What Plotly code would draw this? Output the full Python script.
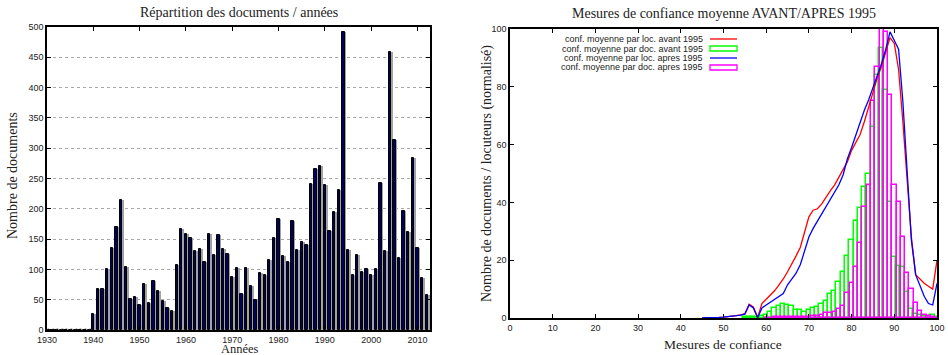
import plotly.graph_objects as go

# ---------------- Left chart data ----------------
years = list(range(1930, 2013))
docs = [0, 0, 0, 0, 0, 0, 0, 0, 0, 0,
        27, 68, 68, 101, 135, 170, 214, 104, 51, 55,
        42, 76, 44, 81, 64, 48, 37, 32, 108, 167,
        159, 152, 131, 133, 112, 158, 123, 157, 133, 126,
        87, 103, 60, 103, 73, 50, 94, 90, 115, 152,
        183, 122, 113, 180, 132, 145, 141, 241, 265, 270,
        240, 163, 194, 231, 491, 132, 90, 123, 95, 100,
        90, 100, 243, 131, 458, 313, 118, 196, 161, 284,
        135, 86, 57]
year_ticks = list(range(1930, 2011, 10))
doc_ticks = list(range(0, 501, 50))

# ---------------- Right chart data ----------------
conf_x = list(range(45, 101))
loc_avant = [0, 0, 0.1, 0.1, 0.2, 0.3, 0.4, 0.6, 0.8, 1.1,
             1.5, 4.8, 3.8, 0.2, 5.0, 6.5, 8, 9.5, 11.5, 13.5,
             16, 18.5, 21.5, 24.5, 29.5, 35, 37.3, 37.8, 39.5, 42,
             44, 46, 48.5, 51, 54, 58, 61, 63.5, 68, 73,
             78, 83, 87, 92, 97, 95, 86, 68, 48, 28,
             15, 13.5, 12, 11, 10, 20]
loc_apres = [0, 0, 0.1, 0.1, 0.2, 0.3, 0.4, 0.6, 0.8, 1.0,
             1.3, 4.5, 3.5, 0.1, 3.5, 4.5, 5.5, 6.3, 7.2, 8.5,
             11.5, 13.5, 15.5, 18.5, 23.5, 28, 31, 33.5, 36, 38.5,
             41, 43.5, 46, 49.5, 55, 59, 63.5, 67.5, 72, 75.5,
             79.5, 83.5, 88, 93, 99, 96, 93, 75, 50, 27,
             15, 11, 7.5, 5, 4.5, 12]
doc_avant_x = list(range(55, 101))
doc_avant = [0.2, 0.4, 0.5, 0.3, 0.8, 1.2, 2, 3.5, 4.2, 4.7,
             4.4, 4, 2.8, 2.6, 2.2, 2.6, 3.3, 3.8, 4.7, 5.8,
             8.2, 9.5, 12.5, 16, 21.5, 27, 33.5, 38, 45.5, 50,
             66, 84, 93.5, 79, 40, 21, 18, 17.5, 9, 3,
             1.4, 1, 0.6, 0.4, 1.2, 0.2]
doc_apres_x = list(range(60, 101))
doc_apres = [0.1, 0.1, 0.2, 0.2, 0.2, 0.3, 0.3, 0.3, 0.3, 0.4,
             0.5, 0.6, 0.8, 1.2, 1.6, 1.9, 2.2, 3, 4.3, 8.5,
             12, 17.8, 25.8, 38.5, 46, 75, 87, 104, 99, 77,
             46, 40, 28, 15.5, 10, 5.3, 2.5, 1.2, 0.6, 0.3, 0]
conf_ticks = list(range(0, 101, 10))
norm_ticks = list(range(0, 101, 20))

series_names = ["conf. moyenne par loc. avant 1995",
                "conf. moyenne par doc. avant 1995",
                "conf. moyenne par loc. apres 1995",
                "conf. moyenne par doc. apres 1995"]
series_colors = ["#ff0000", "#00ff00", "#0000ff", "#ff00ff"]

SERIF = "Liberation Serif"
SANS = "Liberation Sans"
W, H = 948, 355


def px(x):
    return x / W


def py(y):
    return (H - y) / H


fig = go.Figure()

# Left: shadow + navy bars (zero-count years show as a black baseline)
shadow_line_w = [1.2 if v == 0 else 0 for v in docs]
fig.add_trace(go.Bar(x=years, y=docs, xaxis="x", yaxis="y", width=0.42, offset=0.2,
                     marker=dict(color="#a3a3a3", line=dict(color="black", width=shadow_line_w)),
                     showlegend=False, hoverinfo="skip"))
fig.add_trace(go.Bar(x=years, y=docs, xaxis="x", yaxis="y", width=0.5, offset=-0.25,
                     marker=dict(color="#00005e", line=dict(color="black", width=1)),
                     showlegend=False, name="documents"))

# Right
fig.add_trace(go.Scatter(x=conf_x, y=loc_avant, xaxis="x2", yaxis="y2", mode="lines",
                         line=dict(color=series_colors[0], width=1.3), name=series_names[0]))
fig.add_trace(go.Bar(x=doc_avant_x, y=doc_avant, xaxis="x2", yaxis="y2", width=1, offset=-0.55,
                     marker=dict(color="rgba(0,0,0,0)", line=dict(color=series_colors[1], width=1.5)),
                     name=series_names[1]))
fig.add_trace(go.Scatter(x=conf_x, y=loc_apres, xaxis="x2", yaxis="y2", mode="lines",
                         line=dict(color=series_colors[2], width=1.3), name=series_names[2]))
fig.add_trace(go.Bar(x=doc_apres_x, y=doc_apres, xaxis="x2", yaxis="y2", width=1, offset=-0.45,
                     marker=dict(color="rgba(0,0,0,0)", line=dict(color=series_colors[3], width=1.5)),
                     name=series_names[3]))

tickfont = dict(family=SANS, size=9, color="#222222")
axis_common = dict(showline=True, linecolor="black", linewidth=1.5, mirror="ticks",
                   ticks="inside", ticklen=4, tickcolor="black", tickwidth=1,
                   zeroline=False, tickfont=tickfont, fixedrange=True, automargin=False)

fig.update_layout(
    width=W, height=H,
    margin=dict(l=0, r=0, t=0, b=0, autoexpand=False),
    paper_bgcolor="white", plot_bgcolor="white",
    barmode="overlay", bargap=0,
    showlegend=False,
    xaxis=dict(domain=[px(47), px(430)], range=[1930, 2012.7], tickvals=year_ticks,
               showgrid=False, anchor="y", **axis_common),
    yaxis=dict(domain=[py(330), py(27)], range=[0, 500], tickvals=doc_ticks,
               showgrid=True, gridcolor="#a8a8a8", griddash="dot", gridwidth=1,
               anchor="x", **axis_common),
    xaxis2=dict(domain=[px(510), px(937)], range=[0, 100], tickvals=conf_ticks,
                showgrid=False, anchor="y2", **axis_common),
    yaxis2=dict(domain=[py(318), py(29)], range=[0, 100], tickvals=norm_ticks,
                showgrid=False, anchor="x2", **axis_common),
)

titlefont = dict(family=SERIF, size=14, color="#222222")
ann = [
    dict(text="Répartition des documents / années", x=px((47 + 430) / 2), y=py(12.5)),
    dict(text="Mesures de confiance moyenne AVANT/APRES 1995", x=px((510 + 937) / 2), y=py(14)),
    dict(text="Années", x=px(240), y=py(348.5), size=12.5),
    dict(text="Mesures de confiance", x=px(723), y=py(344.5), size=13.5),
    dict(text="Nombre de documents", x=px(12), y=py(176), textangle=-90),
    dict(text="Nombre de documents / locuteurs (normalisé)", x=px(487), y=py(174), textangle=-90),
]
for a in ann:
    f = dict(titlefont)
    if "size" in a:
        f["size"] = a.pop("size")
    fig.add_annotation(xref="paper", yref="paper", showarrow=False, font=f,
                       xanchor="center", yanchor="middle", borderpad=0, **a)

# gnuplot-style key: right-aligned text with sample to its right
rows = [39, 48.5, 58, 67.5]
for i, (name, col) in enumerate(zip(series_names, series_colors)):
    yy = py(rows[i])
    fig.add_annotation(xref="paper", yref="paper", x=px(704), y=yy, text=name,
                       showarrow=False, xanchor="right", yanchor="middle", borderpad=0,
                       font=dict(family=SANS, size=9, color="#222222"))
    if i % 2 == 0:
        fig.add_shape(type="line", xref="paper", yref="paper",
                      x0=px(710), x1=px(737), y0=yy, y1=yy,
                      line=dict(color=col, width=1.3))
    else:
        fig.add_shape(type="rect", xref="paper", yref="paper",
                      x0=px(710), x1=px(737), y0=py(rows[i] + 2.5), y1=py(rows[i] - 2.5),
                      line=dict(color=col, width=1.3), fillcolor="rgba(0,0,0,0)")

fig.write_html("out.html",
               config={"displayModeBar": False},
               post_script="document.documentElement.style.margin='0';"
                           "document.body.style.margin='0';"
                           "document.body.style.padding='0';")
